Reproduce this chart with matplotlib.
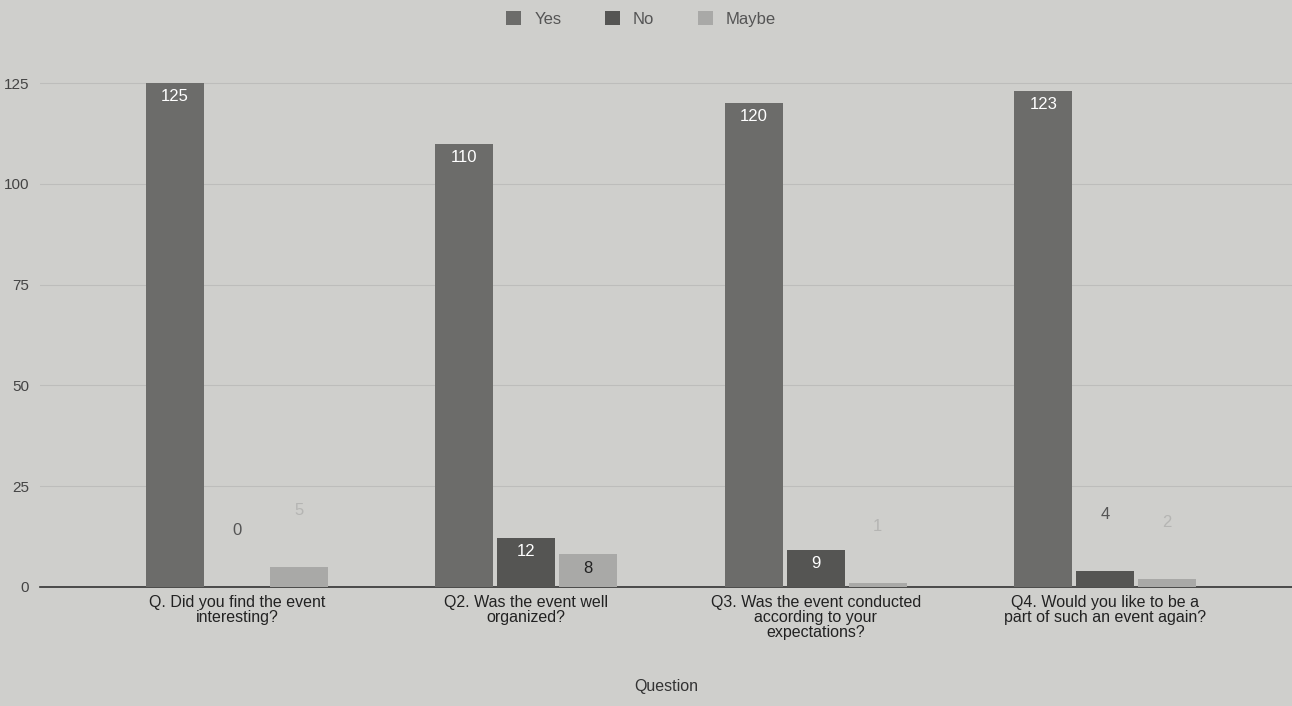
import matplotlib.pyplot as plt
import numpy as np

plt.rcParams['font.family'] = ['Liberation Sans', 'DejaVu Sans']

questions = [
    "Q. Did you find the event\ninteresting?",
    "Q2. Was the event well\norganized?",
    "Q3. Was the event conducted\naccording to your\nexpectations?",
    "Q4. Would you like to be a\npart of such an event again?",
]
yes = [125, 110, 120, 123]
no = [0, 12, 9, 4]
maybe = [5, 8, 1, 2]
series_names = ["Yes", "No", "Maybe"]

bg = "#cfcfcc"
colors = ["#6c6c6a", "#555553", "#a9a9a7"]

fig = plt.figure(figsize=(12.92, 7.06), dpi=100, facecolor=bg)
ax = fig.add_axes([0.031, 0.169, 0.969, 0.713 * 128 / 125])
ax.set_facecolor(bg)

x = np.arange(len(questions))
width = 0.2
step = 0.214

for i, (vals, name, col) in enumerate(zip([yes, no, maybe], series_names, colors)):
    pos = x + (i - 1) * step
    bars = ax.bar(pos, vals, width, color=col, label=name, zorder=3)
    for b, v in zip(bars, vals):
        cx = b.get_x() + b.get_width() / 2
        if v >= 8:
            tcol = "#222222" if name == "Maybe" else "white"
            ax.text(cx, v - 1.5, str(v), ha="center", va="top", fontsize=12,
                    color=tcol, zorder=4)
        else:
            tcol = "#b5b5b3" if name == "Maybe" else "#555555"
            ax.text(cx, v + 14, str(v), ha="center", va="center", fontsize=12,
                    color=tcol, zorder=4)

ax.set_xlim(-0.68, 3.645)
ax.set_ylim(0, 128)
ax.set_yticks([0, 25, 50, 75, 100, 125])
ax.tick_params(axis="y", length=0, labelsize=11, labelcolor="#444444", pad=8)
ax.tick_params(axis="x", length=0, labelsize=11.5, labelcolor="#222222", pad=6)
ax.set_xticks(x)
ax.set_xticklabels(questions, linespacing=1.0)
ax.grid(axis="y", color="#bdbdbb", linewidth=0.8, zorder=0)

for s in ["left", "right", "top"]:
    ax.spines[s].set_visible(False)
ax.spines["bottom"].set_color("#333333")
ax.spines["bottom"].set_linewidth(1.2)

ax.set_xlabel("Question", fontsize=11.5, color="#333333", labelpad=28)

ax.legend(loc="upper center", bbox_to_anchor=(0.48, 1.145), ncol=3, frameon=False,
          fontsize=12, handlelength=0.9, handleheight=0.9, columnspacing=2.6,
          labelcolor="#555555")

fig.savefig("out.png", dpi=100, facecolor=bg)
